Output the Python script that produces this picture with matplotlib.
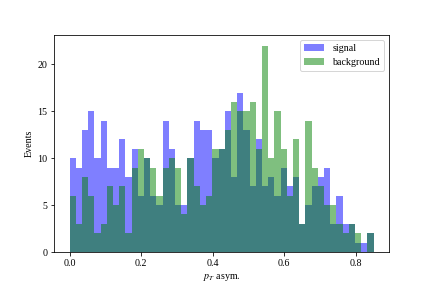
import numpy as np
import matplotlib
matplotlib.use("Agg")
import matplotlib.pyplot as plt

plt.rcParams['font.family'] = ['Liberation Serif', 'DejaVu Serif']
plt.rcParams['mathtext.fontset'] = 'stix'
plt.rcParams['font.size'] = 10

# histogram counts per bin, 49 bins from 0 to 0.85
signal = [10, 9, 13, 15, 10, 14, 9, 9, 12, 8,
          11, 6, 10, 6, 5, 14, 11, 5, 5, 10,
          14, 13, 13, 10, 11, 15, 8, 17, 13, 7,
          12, 7, 8, 6, 9, 7, 8, 3, 5, 7,
          8, 9, 3, 6, 3, 3, 1, 1, 2]
background = [6, 3, 8, 6, 2, 3, 7, 5, 7, 2,
              9, 11, 10, 9, 6, 9, 10, 9, 4, 10,
              7, 5, 6, 11, 11, 13, 16, 15, 15, 16,
              11, 22, 10, 15, 11, 6, 12, 3, 14, 9,
              7, 5, 5, 3, 2, 3, 2, 0, 2]
edges = np.linspace(0, 0.85, len(signal) + 1)
centers = 0.5 * (edges[:-1] + edges[1:])

fig, ax = plt.subplots(figsize=(6, 4), dpi=72)
fig.subplots_adjust(left=0.126, right=0.9, bottom=0.125, top=0.877)

ax.hist(centers, bins=edges, weights=signal, color='blue', alpha=0.5, label='signal')
ax.hist(centers, bins=edges, weights=background, color='green', alpha=0.5, label='background')

ax.set_xlabel(r'$p_T$ asym.')
ax.set_ylabel('Events')
ax.legend(loc='upper right')

fig.savefig('out.png', dpi=72)
